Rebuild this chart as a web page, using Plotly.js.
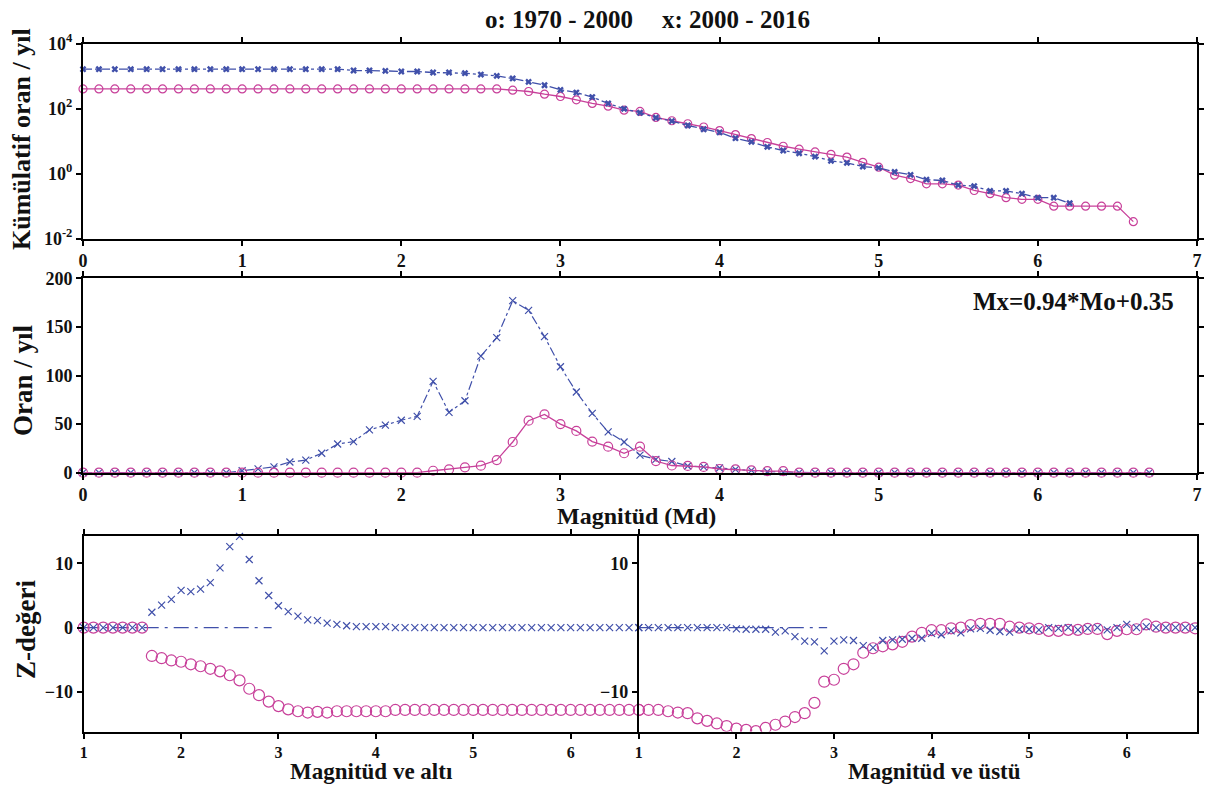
<!DOCTYPE html>
<html>
<head>
<meta charset="utf-8">
<script src="https://cdn.plot.ly/plotly-3.0.1.min.js"></script>
<style>html,body{margin:0;padding:0;background:#fff;}#chart{width:1205px;height:785px;}</style>
</head>
<body>
<div id="chart"></div>
<script>
// ---------- DATA ----------
// magnitudes (Md) for top & middle panels, 0.0 .. 6.7
const mag = [0.0,0.1,0.2,0.3,0.4,0.5,0.6,0.7,0.8,0.9,1.0,1.1,1.2,1.3,1.4,1.5,1.6,1.7,1.8,1.9,
  2.0,2.1,2.2,2.3,2.4,2.5,2.6,2.7,2.8,2.9,3.0,3.1,3.2,3.3,3.4,3.5,3.6,3.7,3.8,3.9,
  4.0,4.1,4.2,4.3,4.4,4.5,4.6,4.7,4.8,4.9,5.0,5.1,5.2,5.3,5.4,5.5,5.6,5.7,5.8,5.9,
  6.0,6.1,6.2,6.3,6.4,6.5,6.6,6.7];

// cumulative rate / year, x: 2000-2016 (M 0.0 .. 6.2)
const cumNew = [1620,1620,1620,1620,1620,1620,1620,1620,1620,1620,1620,1620,1620,1620,1620,1620,1620,
  1475,1475,1440,1375,1375,1280,1280,1220,1110,1010,840,660,520,375,310,225,143,98,74,52,41,30,23,
  18.3,12.2,9.4,6.6,5.1,4.2,3.3,2.45,2.13,1.64,1.49,1.12,0.91,0.65,0.61,0.44,0.41,0.29,0.29,0.24,
  0.18,0.18,0.122];
// cumulative rate / year, o: 1970-2000 (M 0.0 .. 6.6)
const cumOld = [400,400,400,400,400,400,400,400,400,400,400,400,400,400,400,400,400,400,400,400,
  400,400,400,400,400,400,400,366,333,275,234,185,143,118,89,81,53,42,34,27,
  21,15.8,11.9,9.0,6.9,5.6,4.6,3.9,3.2,2.2,1.57,0.89,0.70,0.48,0.48,0.44,0.30,0.24,0.18,0.16,
  0.16,0.099,0.099,0.099,0.099,0.099,0.033];

// non-cumulative rate / year (M 0.0 .. 6.7)
const rateNew = [0,0,0,0,0,0,0,0,0,0,2,4,6,11,13,20,29.5,32,44,49,
  54,58,94,62,74,120,139,177,167,140,109,83,61,42,31.6,18,13.7,11.5,6.9,6,
  4.8,3.4,2.4,1,0.6,0,0,0,0,0,0,0,0,0,0,0,0,0,0,0,0,0,0,0,0,0,0,0];
const rateOld = [0,0,0,0,0,0,0,0,0,0,0,0,0,0,0,0,0,0,0,0,
  0,0,2,3.4,5.5,7.2,13,31.6,53.5,60,50,43,32,26.8,20,26.8,12,7.4,7,5.9,
  3.8,3.4,2.4,1.7,1.7,0,0,0,0,0,0,0,0,0,0,0,0,0,0,0,0,0,0,0,0,0,0,0];

// Z-value panels, magnitudes 1.0 .. 6.7
const magZ = [1.0,1.1,1.2,1.3,1.4,1.5,1.6,1.7,1.8,1.9,2.0,2.1,2.2,2.3,2.4,2.5,2.6,2.7,2.8,2.9,
  3.0,3.1,3.2,3.3,3.4,3.5,3.6,3.7,3.8,3.9,4.0,4.1,4.2,4.3,4.4,4.5,4.6,4.7,4.8,4.9,
  5.0,5.1,5.2,5.3,5.4,5.5,5.6,5.7,5.8,5.9,6.0,6.1,6.2,6.3,6.4,6.5,6.6,6.7];
const zBelowNew = [0,0,0,0,0,0,0,2.4,3.5,4.4,5.8,5.6,6.0,7.0,9.3,12.6,14.2,10.6,7.3,5.0,
  3.4,2.5,1.8,1.2,1.1,0.7,0.5,0.3,0.15,0.15,0.15,0.15,0,0,0,0,0,0,0,0,
  0,0,0,0,0,0,0,0,0,0,0,0,0,0,0,0,0,0];
const zBelowOld = [0,0,0,0,0,0,0,-4.4,-4.75,-5.1,-5.3,-5.7,-6.0,-6.4,-6.8,-7.4,-8.2,-9.5,-10.5,-11.5,
  -12.2,-12.7,-13.0,-13.2,-13.1,-13.2,-13.0,-13.0,-13.0,-13.0,-13.0,-13.0,-12.8,-12.8,-12.8,-12.8,-12.8,-12.8,-12.8,-12.8,
  -12.8,-12.8,-12.8,-12.8,-12.8,-12.8,-12.8,-12.8,-12.8,-12.8,-12.8,-12.8,-12.8,-12.8,-12.8,-12.8,-12.8,-12.8];
const zAboveNew = [0,0,0,0,0,0,0,0,0,0,-0.2,-0.25,-0.25,-0.25,-0.7,-0.5,-1.4,-2.1,-2.2,-3.6,
  -2.1,-1.9,-2.0,-2.8,-3.1,-2.0,-1.9,-1.8,-1.65,-1.65,-0.9,-1.1,-0.5,-0.8,-0.2,-0.1,-0.4,-0.6,-0.7,-0.25,
  -0.25,-0.35,0,-0.1,0,-0.35,-0.1,0,-0.35,0,0.5,0,0.15,0,0,0,0,0];
const zAboveOld = [-12.8,-12.8,-12.8,-13.0,-13.2,-13.3,-14.1,-14.5,-14.9,-15.3,-15.7,-15.9,-16.1,-15.6,-15.1,-14.6,-13.9,-13.3,-11.7,-8.4,
  -8.1,-6.4,-5.7,-3.9,-3.2,-2.9,-2.6,-2.2,-1.4,-0.8,-0.4,-0.4,-0.1,0,0.4,0.6,0.6,0.6,0.15,0,
  -0.1,-0.2,-0.5,-0.5,-0.35,-0.35,-0.2,-0.2,-1.0,-0.5,-0.25,-0.25,0.5,0.15,0,0,0,-0.1];
// reference (zero) line in Z panels
const refX = [1.0, 2.93];
const refY = [0, 0];

const logTickVals = [0.01, 1, 100, 10000];
const logTickText = ['10<sup>-2</sup>','10<sup>0</sup>','10<sup>2</sup>','10<sup>4</sup>'];

// ---------- STYLE ----------
const BLUE = '#4050aa';
const PINK = '#c8409a';
const W = 1205, H = 785;
const px = v => v / W;
const py = v => 1 - v / H;
const FONT = 'Liberation Serif, Times New Roman, serif';

const traces = [
  // top panel
  {x: mag.slice(0, cumOld.length), y: cumOld, xaxis:'x', yaxis:'y', mode:'lines+markers',
   line:{color:PINK, width:1.3}, marker:{symbol:'circle-open', size:8, color:PINK, line:{width:1.2}}, cliponaxis:false},
  {x: mag.slice(0, cumNew.length), y: cumNew, xaxis:'x', yaxis:'y', mode:'lines+markers',
   line:{color:BLUE, width:1.3, dash:'dashdot'}, marker:{symbol:'x', size:6, color:BLUE}, cliponaxis:false},
  // middle panel
  {x: mag, y: rateNew, xaxis:'x2', yaxis:'y2', mode:'lines+markers',
   line:{color:BLUE, width:1.2, dash:'dashdot'}, marker:{symbol:'x-thin-open', size:7, color:BLUE, line:{width:1.2, color:BLUE}}, cliponaxis:false},
  {x: mag, y: rateOld, xaxis:'x2', yaxis:'y2', mode:'lines+markers',
   line:{color:PINK, width:1.3}, marker:{symbol:'circle-open', size:9, color:PINK, line:{width:1.2}}, cliponaxis:false},
  // bottom-left panel
  {x: refX, y: refY, xaxis:'x3', yaxis:'y3', mode:'lines', line:{color:BLUE, width:1.3, dash:'longdashdot'}},
  {x: magZ, y: zBelowOld, xaxis:'x3', yaxis:'y3', mode:'markers',
   marker:{symbol:'circle-open', size:11, color:PINK, line:{width:1.2}}, cliponaxis:false},
  {x: magZ, y: zBelowNew, xaxis:'x3', yaxis:'y3', mode:'markers',
   marker:{symbol:'x-thin-open', size:7, color:BLUE, line:{width:1.2, color:BLUE}}, cliponaxis:false},
  // bottom-right panel
  {x: refX, y: refY, xaxis:'x4', yaxis:'y4', mode:'lines', line:{color:BLUE, width:1.3, dash:'longdashdot'}},
  {x: magZ, y: zAboveOld, xaxis:'x4', yaxis:'y4', mode:'markers',
   marker:{symbol:'circle-open', size:11, color:PINK, line:{width:1.2}}, cliponaxis:true},
  {x: magZ, y: zAboveNew, xaxis:'x4', yaxis:'y4', mode:'markers',
   marker:{symbol:'x-thin-open', size:7, color:BLUE, line:{width:1.2, color:BLUE}}, cliponaxis:false}
];

const tickFont = {family: FONT, size: 18, color: '#111', weight: 'bold'};
const tickFontSmall = {family: FONT, size: 16, color: '#111', weight: 'bold'};
function axis(extra) {
  return Object.assign({
    showline: true, linecolor: '#000', linewidth: 2, mirror: 'allticks',
    ticks: 'outside', ticklen: 5, tickwidth: 2, tickcolor: '#000',
    showgrid: false, zeroline: false, tickfont: tickFont, fixedrange: true
  }, extra);
}
const tf = (size) => ({family:FONT, size:size, color:'#111', weight:'bold'});

const zRange = [-16.15, 14.3];
const layout = {
  width: W, height: H,
  margin: {l: 0, r: 0, t: 0, b: 0},
  paper_bgcolor: '#fff', plot_bgcolor: '#fff',
  showlegend: false,
  xaxis:  axis({domain:[px(83), px(1197)], range:[0,7], dtick:1, anchor:'y'}),
  yaxis:  axis({domain:[py(238.5), py(43.5)], type:'log', range:[-2,4], tickvals:logTickVals, ticktext:logTickText, anchor:'x'}),
  xaxis2: axis({domain:[px(83), px(1197)], range:[0,7], dtick:1, anchor:'y2'}),
  yaxis2: axis({domain:[py(472.7), py(278.3)], range:[0,200], dtick:50, anchor:'x2'}),
  xaxis3: axis({domain:[px(83.7), px(638.8)], range:[1,6.7], tickvals:[1,2,3,4,5,6], anchor:'y3', tickfont:tickFontSmall}),
  yaxis3: axis({domain:[py(731.5), py(535.7)], range:zRange, tickvals:[-10,0,10], anchor:'x3', mirror:false}),
  xaxis4: axis({domain:[px(638.8), px(1197)], range:[1,6.72], tickvals:[1,2,3,4,5,6], anchor:'y4', tickfont:tickFontSmall}),
  yaxis4: axis({domain:[py(731.5), py(535.7)], range:zRange, tickvals:[-10,10], anchor:'x4'}),
  annotations: [
    {text:'o: 1970 - 2000', x:px(559), y:py(20), xref:'paper', yref:'paper', showarrow:false,
     xanchor:'center', yanchor:'middle', font:tf(25)},
    {text:'x: 2000 - 2016', x:px(736), y:py(20), xref:'paper', yref:'paper', showarrow:false,
     xanchor:'center', yanchor:'middle', font:tf(25)},
    {text:'Kümülatif oran / yıl', x:px(22), y:py(139), xref:'paper', yref:'paper', showarrow:false,
     textangle:-90, xanchor:'center', yanchor:'middle', font:tf(26)},
    {text:'Oran / yıl', x:px(23), y:py(380), xref:'paper', yref:'paper', showarrow:false,
     textangle:-90, xanchor:'center', yanchor:'middle', font:tf(27)},
    {text:'Z-değeri', x:px(26), y:py(630), xref:'paper', yref:'paper', showarrow:false,
     textangle:-90, xanchor:'center', yanchor:'middle', font:tf(27)},
    {text:'Magnitüd (Md)', x:px(636), y:py(516), xref:'paper', yref:'paper', showarrow:false,
     xanchor:'center', yanchor:'middle', font:tf(24)},
    {text:'Magnitüd ve altı', x:px(371), y:py(771), xref:'paper', yref:'paper', showarrow:false,
     xanchor:'center', yanchor:'middle', font:tf(23)},
    {text:'Magnitüd ve üstü', x:px(934), y:py(771), xref:'paper', yref:'paper', showarrow:false,
     xanchor:'center', yanchor:'middle', font:tf(23)},
    {text:'Mx=0.94*Mo+0.35', x:px(1073), y:py(301), xref:'paper', yref:'paper', showarrow:false,
     xanchor:'center', yanchor:'middle', font:tf(25)}
  ]
};

Plotly.newPlot('chart', traces, layout, {staticPlot: true, displayModeBar: false});
</script>
</body>
</html>
